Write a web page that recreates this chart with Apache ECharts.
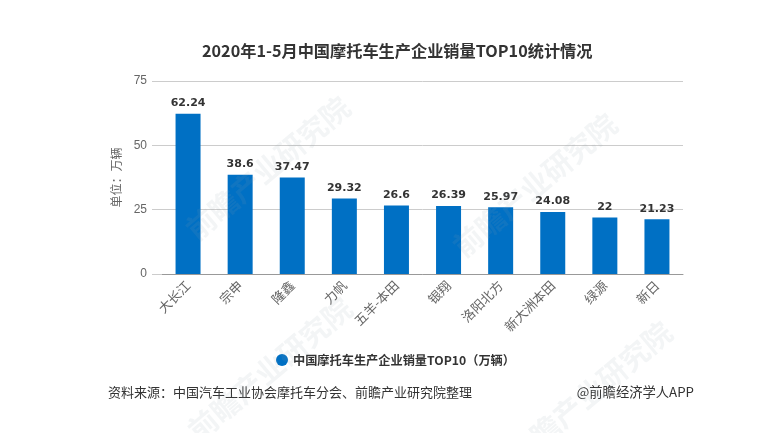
<!DOCTYPE html>
<html>
<head>
    <meta charset="utf-8">
    <title>2020年1-5月中国摩托车生产企业销量TOP10统计情况</title>
    <script src="https://cdn.jsdelivr.net/npm/echarts@6/dist/echarts.min.js"></script>
    <style>
        html, body { margin: 0; padding: 0; background: #fff; }
    </style>
</head>
<body>
<div id="chartmain" style="width:782px; height:433px;"></div>
<script type="text/javascript">
var categories = ['大长江', '宗申', '隆鑫', '力帆', '五羊-本田', '银翔', '洛阳北方', '新大洲本田', '绿源', '新日'];
var sales = [62.24, 38.6, 37.47, 29.32, 26.6, 26.39, 25.97, 24.08, 22, 21.23];
var seriesName = '中国摩托车生产企业销量TOP10（万辆）';
var fontName = '"Noto Sans CJK SC", "Liberation Sans", sans-serif';

// 水印
function mark(x, y) {
    return {
        type: 'text', x: x, y: y, rotation: Math.PI * 40 / 180, z: 10, silent: true,
        style: { text: '前瞻产业研究院', fill: 'rgba(150,160,170,0.11)', font: 'bold 29px ' + fontName, align: 'center', verticalAlign: 'middle' }
    };
}

var option = {
    animation: false,
    backgroundColor: '#fff',
    title: {
        text: '2020年1-5月中国摩托车生产企业销量TOP10统计情况',
        left: 197, top: 38,
        textStyle: { fontFamily: fontName, fontSize: 16.2, fontWeight: 'bold', color: '#333' }
    },
    legend: {
        data: [seriesName], left: 271, top: 349, itemWidth: 12, itemHeight: 12, icon: 'circle', itemGap: 6,
        textStyle: { fontFamily: fontName, fontSize: 12.2, fontWeight: 'bold', color: '#333' }
    },
    grid: { left: 162, right: 99, top: 81, bottom: 159 },
    xAxis: {
        type: 'category',
        data: categories,
        axisTick: { alignWithLabel: true, length: 6, lineStyle: { color: '#999' } },
        axisLine: { lineStyle: { color: '#999' } },
        axisLabel: { rotate: 45, interval: 0, fontFamily: fontName, fontSize: 13, color: '#666', margin: 9 }
    },
    yAxis: {
        type: 'value', min: 0, max: 75, interval: 25,
        name: '单位：万辆', nameLocation: 'middle', nameGap: 37,
        nameTextStyle: { fontFamily: fontName, fontSize: 12, color: '#666' },
        axisLine: { show: false },
        axisTick: { show: true, length: 10, lineStyle: { color: '#ccc' } },
        axisLabel: { fontFamily: '"Liberation Sans", sans-serif', fontSize: 12, color: '#666', margin: 15 },
        splitLine: { lineStyle: { color: '#ccc' } }
    },
    series: [{
        name: seriesName, type: 'bar', data: sales, barWidth: 25,
        itemStyle: { color: '#0070c4' },
        label: {
            show: true, position: 'top', distance: 5,
            fontFamily: '"DejaVu Sans", sans-serif', fontSize: 11, fontWeight: 'bold', color: '#333'
        }
    }],
    graphic: [
        mark(268, 168), mark(535, 185), mark(270, 369), mark(590, 393),
        { type: 'text', x: 108, y: 392, style: { text: '资料来源：中国汽车工业协会摩托车分会、前瞻产业研究院整理', fill: '#333', font: '13px ' + fontName, verticalAlign: 'middle' } },
        { type: 'text', x: 694, y: 392, style: { text: '@前瞻经济学人APP', fill: '#333', font: '13.3px ' + fontName, align: 'right', verticalAlign: 'middle' } }
    ]
};
var myChart = echarts.init(document.getElementById('chartmain'));
myChart.setOption(option);
</script>
</body>
</html>
